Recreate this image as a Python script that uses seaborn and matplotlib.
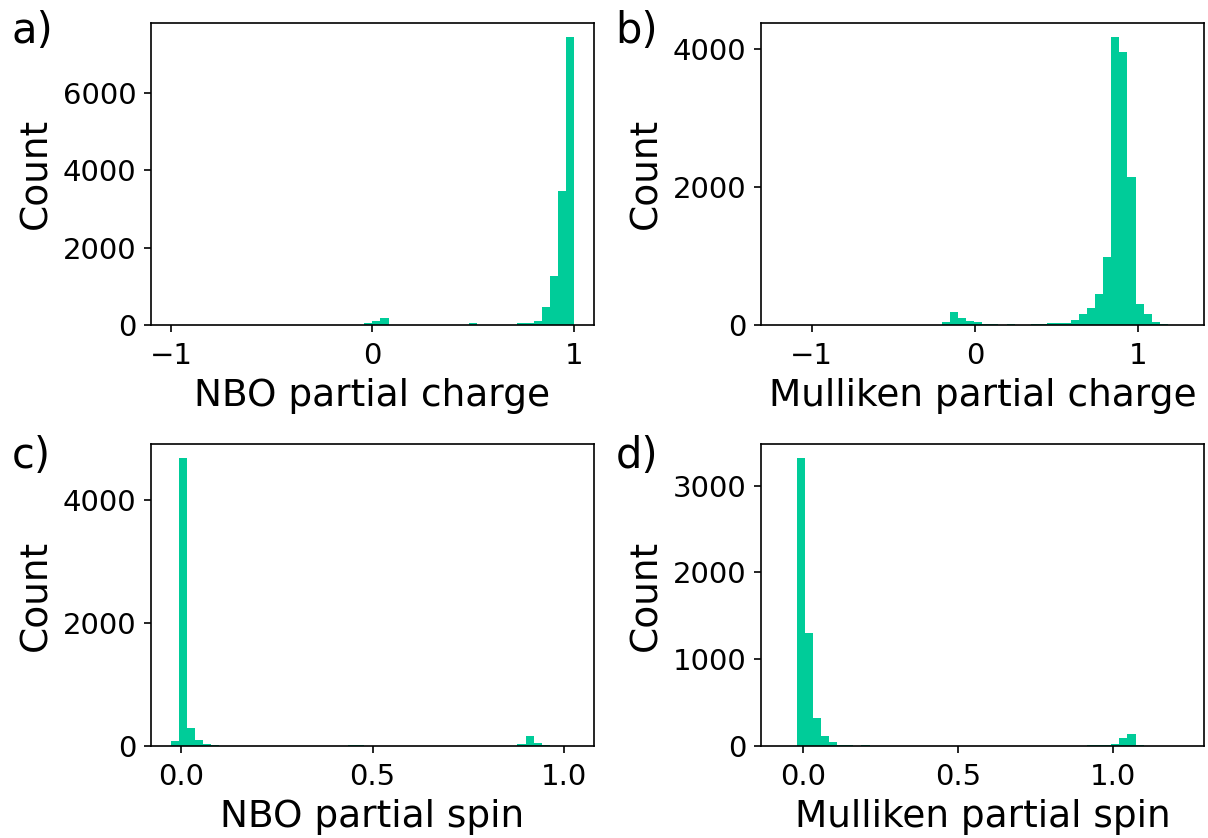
import numpy as np
import pandas as pd
import matplotlib
matplotlib.use("Agg")
import matplotlib.pyplot as plt
import seaborn as sns

# 히스토그램 bin 개수 (모든 패널 동일)
n_bins = 50

# a) NBO partial charge
nbo_charge_range = (-1.0, 1.0)
nbo_charge_counts = [1, 0, 0, 0, 0, 0, 0, 0, 0, 0,
                     0, 0, 0, 0, 0, 0, 0, 0, 0, 0,
                     0, 0, 0, 1, 35, 112, 190, 5, 1, 1,
                     1, 1, 1, 2, 2, 2, 3, 60, 3, 3,
                     4, 5, 8, 35, 60, 112, 458, 1253, 3456, 7447]

# b) Mulliken partial charge
mull_charge_range = (-1.189, 1.279)
mull_charge_counts = [1, 0, 0, 0, 0, 0, 0, 0, 0, 0,
                      0, 0, 0, 0, 0, 0, 0, 0, 1, 2,
                      48, 193, 106, 63, 48, 19, 19, 3, 19, 3,
                      3, 19, 19, 34, 34, 34, 77, 164, 237, 454,
                      976, 4164, 3947, 2135, 309, 164, 48, 19, 3, 1]

# c) NBO partial spin
nbo_spin_range = (-0.0258, 1.025)
nbo_spin_counts = [81, 4667, 293, 98, 33, 16, 5, 5, 2, 2,
                   2, 2, 2, 1, 1, 1, 1, 1, 1, 1,
                   2, 2, 16, 16, 3, 3, 3, 3, 1, 1,
                   1, 1, 1, 1, 1, 1, 1, 1, 2, 2,
                   2, 2, 2, 33, 163, 49, 8, 5, 1, 1]

# d) Mulliken partial spin
mull_spin_range = (-0.0716, 1.230)
mull_spin_counts = [2, 2, 3312, 1304, 323, 115, 46, 12, 12, 3,
                    12, 2, 2, 2, 2, 2, 2, 2, 2, 2,
                    2, 2, 2, 2, 2, 2, 2, 2, 2, 2,
                    2, 2, 2, 2, 2, 2, 2, 2, 12, 12,
                    12, 23, 92, 138, 12, 2, 2, 1, 1, 1]

panels = [
    ("a)", "NBO partial charge", nbo_charge_range, nbo_charge_counts, [-1, 0, 1], [0, 2000, 4000, 6000]),
    ("b)", "Mulliken partial charge", mull_charge_range, mull_charge_counts, [-1, 0, 1], [0, 2000, 4000]),
    ("c)", "NBO partial spin", nbo_spin_range, nbo_spin_counts, [0.0, 0.5, 1.0], [0, 2000, 4000]),
    ("d)", "Mulliken partial spin", mull_spin_range, mull_spin_counts, [0.0, 0.5, 1.0], [0, 1000, 2000, 3000]),
]

letter_pos = [(0.0095, 0.9483), (0.5095, 0.9483), (0.0095, 0.4415), (0.5095, 0.4415)]

fig, axes = plt.subplots(2, 2, figsize=(1208 / 150, 838 / 150), dpi=150)
fig.subplots_adjust(left=0.1248, right=0.9967, top=0.9726, bottom=0.1098,
                    wspace=0.376, hspace=0.395)

for ax, (letter, xlabel, brange, counts, xt, yt), (lx, ly) in zip(axes.flat, panels, letter_pos):
    edges = np.linspace(brange[0], brange[1], n_bins + 1)
    df = pd.DataFrame({"value": (edges[:-1] + edges[1:]) / 2, "count": counts})
    sns.histplot(data=df, x="value", weights="count", bins=n_bins, binrange=brange,
                 color="#00CC99", alpha=1, linewidth=0, ax=ax)
    ax.set_xticks(xt)
    if isinstance(xt[0], float):
        ax.set_xticklabels([f"{v:.1f}" for v in xt])
    ax.set_yticks(yt)
    ax.tick_params(labelsize=14)
    ax.tick_params(axis="x", pad=4.5)
    ax.set_xlabel(xlabel, fontsize=18)
    ax.set_ylabel("Count", fontsize=18)
    fig.text(lx, ly, letter, fontsize=20, ha="left", va="baseline")

plt.savefig("out.png", dpi=150)
plt.close()
